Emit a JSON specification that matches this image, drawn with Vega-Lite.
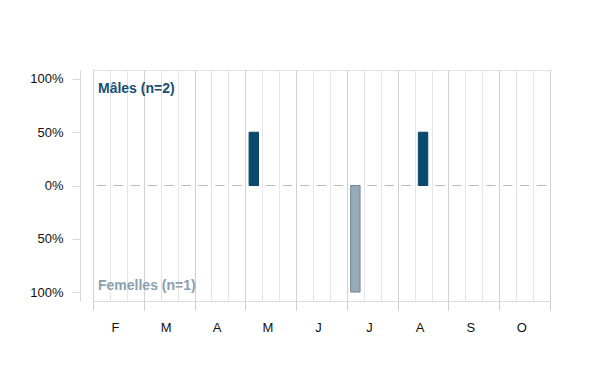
{
  "$schema": "https://vega.github.io/schema/vega-lite/v6.json",
  "autosize": {"type": "none"},
  "padding": {"left": 93, "top": 70, "right": 50, "bottom": 89},
  "width": 457,
  "height": 231,
  "background": "white",
  "config": {
    "font": "Liberation Sans",
    "view": {"stroke": "#e2e2e2", "strokeWidth": 1}
  },
  "datasets": {
    "periodes": [
      {"periode": 0, "mois": "F", "decade": 1}, {"periode": 1, "mois": "F", "decade": 2}, {"periode": 2, "mois": "F", "decade": 3},
      {"periode": 3, "mois": "M", "decade": 1}, {"periode": 4, "mois": "M", "decade": 2}, {"periode": 5, "mois": "M", "decade": 3},
      {"periode": 6, "mois": "A", "decade": 1}, {"periode": 7, "mois": "A", "decade": 2}, {"periode": 8, "mois": "A", "decade": 3},
      {"periode": 9, "mois": "M", "decade": 1}, {"periode": 10, "mois": "M", "decade": 2}, {"periode": 11, "mois": "M", "decade": 3},
      {"periode": 12, "mois": "J", "decade": 1}, {"periode": 13, "mois": "J", "decade": 2}, {"periode": 14, "mois": "J", "decade": 3},
      {"periode": 15, "mois": "J", "decade": 1}, {"periode": 16, "mois": "J", "decade": 2}, {"periode": 17, "mois": "J", "decade": 3},
      {"periode": 18, "mois": "A", "decade": 1}, {"periode": 19, "mois": "A", "decade": 2}, {"periode": 20, "mois": "A", "decade": 3},
      {"periode": 21, "mois": "S", "decade": 1}, {"periode": 22, "mois": "S", "decade": 2}, {"periode": 23, "mois": "S", "decade": 3},
      {"periode": 24, "mois": "O", "decade": 1}, {"periode": 25, "mois": "O", "decade": 2}, {"periode": 26, "mois": "O", "decade": 3}
    ],
    "observations": [
      {"periode": 9, "sexe": "Mâles", "pct": 50},
      {"periode": 19, "sexe": "Mâles", "pct": 50},
      {"periode": 15, "sexe": "Femelles", "pct": -100}
    ]
  },
  "encoding": {
    "x": {
      "field": "periode",
      "type": "quantitative",
      "scale": {"domain": [0, 27], "nice": false, "zero": false, "padding": 0},
      "axis": {
        "title": null,
        "values": [0, 1, 2, 3, 4, 5, 6, 7, 8, 9, 10, 11, 12, 13, 14, 15, 16, 17, 18, 19, 20, 21, 22, 23, 24, 25, 26, 27],
        "grid": true,
        "gridColor": {"condition": {"test": "datum.value % 3 === 0", "value": "#d0d0d0"}, "value": "#e6e6e6"},
        "gridWidth": 1,
        "domain": true,
        "domainColor": "#dadada",
        "ticks": true,
        "tickSize": 9,
        "tickColor": "#cfcfcf",
        "tickOpacity": {"condition": {"test": "datum.value % 3 === 0", "value": 1}, "value": 0},
        "labelExpr": "datum.value % 3 === 0 && datum.value < 27 ? ['F','M','A','M','J','J','A','S','O'][datum.value / 3] : ''",
        "labelOffset": 22,
        "labelFlush": false,
        "labelPadding": 11,
        "labelFontSize": 13,
        "labelColor": "#111111",
        "labelFont": "Liberation Sans",
        "labelOverlap": false
      }
    },
    "y": {
      "type": "quantitative",
      "scale": {"domain": [-108.4, 108.4], "nice": false, "zero": false},
      "axis": {
        "title": null,
        "values": [-100, -50, 0, 50, 100],
        "grid": false,
        "offset": 13,
        "domain": true,
        "domainColor": "#d6d6d6",
        "tickSize": 8,
        "tickColor": "#d6d6d6",
        "labelPadding": 9,
        "labelFlush": false,
        "labelFontSize": 13,
        "labelColor": "#111111",
        "labelFont": "Liberation Sans",
        "labelExpr": "abs(datum.value) + '%'"
      }
    }
  },
  "layer": [
    {
      "data": {"name": "periodes"},
      "mark": {
        "type": "tick",
        "orient": "horizontal",
        "size": 9.4,
        "thickness": 1,
        "color": "#9c9c9c",
        "xOffset": {"expr": "width / 54"}
      },
      "encoding": {
        "y": {"datum": 0}
      }
    },
    {
      "data": {"name": "observations"},
      "mark": {
        "type": "bar",
        "width": 9.4,
        "strokeWidth": 1,
        "xOffset": {"expr": "width / 54"}
      },
      "encoding": {
        "y": {"field": "pct", "type": "quantitative"},
        "y2": {"datum": 0},
        "color": {
          "field": "sexe",
          "type": "nominal",
          "scale": {"domain": ["Mâles", "Femelles"], "range": ["#0b4a6f", "#96abb8"]},
          "legend": null
        },
        "stroke": {
          "field": "sexe",
          "type": "nominal",
          "scale": {"domain": ["Mâles", "Femelles"], "range": ["#0a4466", "#6f8594"]},
          "legend": null
        }
      }
    },
    {
      "data": {"name": "periodes"},
      "transform": [{"filter": "datum.periode === 0"}],
      "mark": {
        "type": "text",
        "align": "left",
        "baseline": "middle",
        "dx": 5,
        "dy": 10,
        "font": "Liberation Sans",
        "fontSize": 14,
        "fontWeight": "bold",
        "fill": "#154f74",
        "text": "Mâles (n=2)"
      },
      "encoding": {
        "y": {"datum": 100}
      }
    },
    {
      "data": {"name": "periodes"},
      "transform": [{"filter": "datum.periode === 0"}],
      "mark": {
        "type": "text",
        "align": "left",
        "baseline": "middle",
        "dx": 5,
        "dy": -6,
        "font": "Liberation Sans",
        "fontSize": 14,
        "fontWeight": "bold",
        "fill": "#8a9fae",
        "text": "Femelles (n=1)"
      },
      "encoding": {
        "y": {"datum": -100}
      }
    }
  ]
}
